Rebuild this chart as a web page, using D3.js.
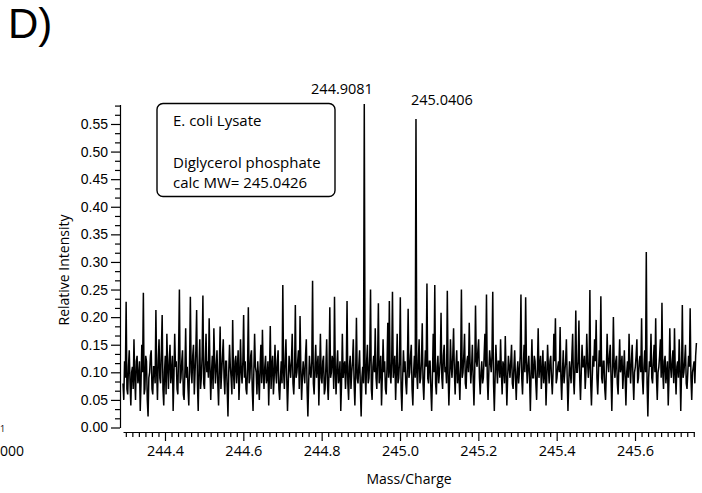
<!DOCTYPE html>
<html><head><meta charset="utf-8">
<script src="https://cdn.jsdelivr.net/npm/d3@7"></script>
<style>body{margin:0;background:#fff} svg{display:block}</style>
</head><body>
<script>
// ---- data ----
const mzStart = 244.2928;
const mzStep = 0.002;
const intensity = [
0.08,0.05,0.12,0.09,0.228,0.07,0.06,0.11,0.14,0.08,0.04,0.10,0.11,0.07,0.16,0.09,0.05,0.12,0.13,0.08,
0.09,0.12,0.03,0.08,0.15,0.10,0.244,0.06,0.07,0.13,0.12,0.05,0.02,0.09,0.10,0.13,0.14,0.07,0.06,0.11,
0.11,0.08,0.213,0.10,0.05,0.12,0.16,0.09,0.08,0.14,0.204,0.07,0.04,0.10,0.13,0.06,0.17,0.11,0.07,0.12,
0.15,0.08,0.10,0.13,0.03,0.09,0.17,0.11,0.12,0.07,0.06,0.14,0.250,0.08,0.09,0.12,0.14,0.06,0.05,0.10,
0.18,0.09,0.11,0.07,0.04,0.12,0.237,0.10,0.08,0.13,0.15,0.06,0.10,0.14,0.213,0.08,0.03,0.11,0.16,0.07,
0.09,0.13,0.239,0.08,0.07,0.12,0.17,0.10,0.12,0.09,0.198,0.11,0.05,0.10,0.13,0.07,0.18,0.12,0.08,0.11,
0.14,0.08,0.04,0.11,0.183,0.07,0.10,0.13,0.16,0.09,0.06,0.12,0.12,0.07,0.02,0.10,0.15,0.11,0.09,0.06,
0.195,0.10,0.07,0.12,0.13,0.08,0.11,0.14,0.05,0.09,0.16,0.10,0.08,0.12,0.204,0.09,0.12,0.07,0.06,0.11,
0.218,0.08,0.09,0.13,0.14,0.07,0.03,0.10,0.17,0.11,0.10,0.06,0.12,0.09,0.05,0.11,0.15,0.08,0.177,0.10,
0.07,0.11,0.13,0.08,0.09,0.12,0.04,0.10,0.184,0.07,0.11,0.13,0.06,0.09,0.15,0.10,0.08,0.12,0.14,0.07,
0.05,0.09,0.12,0.08,0.258,0.10,0.07,0.12,0.16,0.09,0.03,0.08,0.13,0.11,0.09,0.12,0.17,0.08,0.06,0.10,
0.222,0.09,0.10,0.12,0.14,0.07,0.202,0.11,0.05,0.09,0.12,0.10,0.08,0.13,0.16,0.07,0.02,0.08,0.13,0.10,
0.09,0.12,0.266,0.08,0.06,0.11,0.15,0.09,0.11,0.13,0.04,0.10,0.17,0.09,0.08,0.12,0.13,0.06,0.07,0.11,
0.16,0.08,0.05,0.10,0.218,0.09,0.10,0.13,0.12,0.07,0.237,0.10,0.06,0.11,0.14,0.08,0.09,0.12,0.03,0.08,
0.17,0.09,0.11,0.12,0.07,0.10,0.229,0.08,0.05,0.11,0.13,0.07,0.10,0.12,0.16,0.08,0.04,0.10,0.199,0.09,
0.08,0.11,0.14,0.07,0.02,0.09,0.11,0.08,0.586,0.10,0.06,0.12,0.15,0.08,0.09,0.13,0.250,0.07,0.05,0.11,
0.13,0.10,0.18,0.09,0.07,0.12,0.225,0.08,0.10,0.13,0.04,0.09,0.16,0.10,0.12,0.07,0.06,0.11,0.19,0.09,
0.229,0.10,0.08,0.12,0.246,0.09,0.11,0.13,0.05,0.10,0.17,0.08,0.09,0.12,0.236,0.07,0.03,0.09,0.14,0.10,
0.12,0.08,0.06,0.11,0.215,0.09,0.10,0.13,0.15,0.07,0.04,0.10,0.13,0.09,0.559,0.10,0.07,0.12,0.16,0.08,
0.09,0.12,0.189,0.08,0.05,0.10,0.14,0.11,0.261,0.09,0.08,0.12,0.12,0.07,0.03,0.09,0.17,0.10,0.258,0.08,
0.06,0.11,0.13,0.08,0.10,0.12,0.208,0.09,0.07,0.13,0.15,0.10,0.11,0.08,0.248,0.10,0.04,0.09,0.16,0.11,
0.09,0.13,0.18,0.10,0.06,0.11,0.14,0.08,0.12,0.09,0.05,0.11,0.250,0.09,0.10,0.13,0.17,0.08,0.07,0.12,
0.13,0.10,0.19,0.12,0.08,0.11,0.15,0.09,0.04,0.10,0.221,0.12,0.11,0.14,0.16,0.09,0.06,0.10,0.12,0.08,
0.09,0.13,0.17,0.11,0.241,0.09,0.05,0.10,0.14,0.12,0.10,0.13,0.246,0.08,0.03,0.09,0.15,0.11,0.08,0.12,
0.12,0.09,0.16,0.10,0.06,0.12,0.11,0.08,0.166,0.10,0.04,0.09,0.13,0.11,0.09,0.12,0.15,0.08,0.07,0.11,
0.14,0.09,0.05,0.10,0.12,0.08,0.10,0.13,0.241,0.09,0.06,0.11,0.15,0.10,0.236,0.12,0.08,0.11,0.13,0.09,
0.03,0.10,0.16,0.09,0.09,0.13,0.12,0.08,0.05,0.11,0.180,0.09,0.11,0.13,0.07,0.10,0.14,0.08,0.10,0.12,
0.04,0.09,0.15,0.11,0.08,0.12,0.13,0.09,0.06,0.10,0.17,0.12,0.198,0.08,0.09,0.11,0.12,0.10,0.182,0.09,
0.05,0.10,0.14,0.08,0.10,0.12,0.16,0.09,0.03,0.08,0.12,0.10,0.08,0.13,0.17,0.09,0.06,0.11,0.212,0.10,
0.10,0.12,0.194,0.09,0.05,0.10,0.15,0.11,0.11,0.13,0.07,0.10,0.17,0.12,0.09,0.11,0.249,0.08,0.04,0.09,
0.13,0.11,0.16,0.12,0.195,0.09,0.06,0.10,0.14,0.11,0.238,0.09,0.08,0.12,0.12,0.07,0.05,0.10,0.17,0.12,
0.10,0.13,0.15,0.09,0.03,0.10,0.200,0.11,0.09,0.12,0.13,0.08,0.06,0.11,0.16,0.10,0.11,0.13,0.07,0.10,
0.14,0.09,0.04,0.10,0.12,0.09,0.17,0.11,0.08,0.12,0.15,0.09,0.05,0.10,0.11,0.13,0.16,0.08,0.09,0.12,
0.13,0.10,0.198,0.09,0.06,0.11,0.14,0.10,0.318,0.08,0.02,0.09,0.12,0.11,0.17,0.09,0.08,0.12,0.15,0.10,
0.198,0.09,0.05,0.10,0.11,0.13,0.16,0.09,0.226,0.10,0.07,0.12,0.13,0.08,0.10,0.12,0.04,0.09,0.18,0.11,
0.09,0.12,0.14,0.08,0.180,0.10,0.06,0.11,0.12,0.09,0.16,0.11,0.03,0.10,0.222,0.09,0.10,0.12,0.15,0.08,
0.07,0.10,0.13,0.11,0.216,0.09,0.05,0.10,0.11,0.12,0.08,0.13,0.153
];
const yTickValues = [0.00,0.05,0.10,0.15,0.20,0.25,0.30,0.35,0.40,0.45,0.50,0.55];
const xTickValues = [244.4,244.6,244.8,245.0,245.2,245.4,245.6];
const peakMz = [244.9081, 245.0406];
const peakText = ["244.9081", "245.0406"];
const boxLines = ["E. coli Lysate", "Diglycerol phosphate", "calc MW= 245.0426"];
const panelLabel = "D)";
const xTitle = "Mass/Charge";
const yTitle = "Relative Intensity";

// ---- drawing ----
const W = 702, H = 493;
const svg = d3.select("body").append("svg").attr("width", W).attr("height", H);

const x = d3.scaleLinear().domain([244.2928, 245.7506]).range([123, 694]);
const y = d3.scaleLinear().domain([0, 0.5853]).range([427.5, 104.5]);

const sans = "'Open Sans', sans-serif";
const helv = "'Liberation Sans', Arial, sans-serif";

// panel label
svg.append("text").attr("x", 8).attr("y", 38).attr("font-family", helv)
  .attr("font-size", 42).attr("fill", "#000").text(panelLabel);

// fragments of the neighbouring panel's text
svg.append("text").attr("x", 0).attr("y", 432)
  .attr("font-family", sans).attr("font-size", 9).text("1");
svg.append("text").attr("x", 0).attr("y", 456)
  .attr("font-family", sans).attr("font-size", 14).text("000");

// y axis
const minorStep = 1/60;
const yMinor = d3.range(0, 0.5853, minorStep).filter(v => Math.abs(v/0.05 - Math.round(v/0.05)) > 1e-6);
const yAx = svg.append("g").attr("transform", "translate(120,0)")
  .call(d3.axisLeft(y).tickValues(yTickValues).tickFormat(d3.format(".2f"))
    .tickSize(9).tickSizeOuter(0).tickPadding(3));
yAx.selectAll("text").attr("font-family", helv).attr("font-size", 14).attr("fill", "#000");
svg.append("g").attr("transform", "translate(120,0)")
  .call(d3.axisLeft(y).tickValues(yMinor).tickFormat("").tickSize(5).tickSizeOuter(0))
  .select(".domain").remove();

// x axis
const xMinorAll = d3.range(244.4 - 6*minorStep, 245.751, minorStep);
const xMinor = xMinorAll.filter(v => Math.abs((v-244.4)/0.2 - Math.round((v-244.4)/0.2)) > 1e-6);
const xAx = svg.append("g").attr("transform", "translate(0,432)")
  .call(d3.axisBottom(x).tickValues(xTickValues).tickFormat(d3.format(".1f"))
    .tickSize(9).tickSizeOuter(0).tickPadding(5));
xAx.selectAll("text").attr("font-family", sans).attr("font-size", 14.5).attr("fill", "#000");
svg.append("g").attr("transform", "translate(0,432)")
  .call(d3.axisBottom(x).tickValues(xMinor).tickFormat("").tickSize(5).tickSizeOuter(0))
  .select(".domain").remove();

svg.selectAll(".domain, .tick line").attr("stroke", "#000").attr("stroke-width", 1.2);

// titles
svg.append("text").attr("x", 409).attr("y", 484).attr("text-anchor", "middle")
  .attr("font-family", sans).attr("font-size", 14).text(xTitle);
svg.append("text").attr("transform", "translate(69,270) rotate(-90)").attr("text-anchor", "middle")
  .attr("font-family", sans).attr("font-size", 14).text(yTitle);

// spectrum
const line = d3.line().x((d, i) => x(mzStart + i * mzStep)).y(d => y(d));
svg.append("path").datum(intensity).attr("d", line)
  .attr("fill", "none").attr("stroke", "#000").attr("stroke-width", 1.5)
  .attr("stroke-linejoin", "miter");

// peak labels
const peakOffsets = [-22, 26];
const peakBaselines = [94, 105];
peakMz.forEach((m, i) => {
  svg.append("text").attr("x", x(m) + peakOffsets[i]).attr("y", peakBaselines[i])
    .attr("text-anchor", "middle").attr("font-family", sans).attr("font-size", 14.5)
    .text(peakText[i]);
});

// annotation box
svg.append("rect").attr("x", 157).attr("y", 103.5).attr("width", 178).attr("height", 93)
  .attr("rx", 6).attr("fill", "#fff").attr("stroke", "#000").attr("stroke-width", 1.4);
const boxY = [126, 168, 188];
boxLines.forEach((t, i) => {
  svg.append("text").attr("x", 173).attr("y", boxY[i]).attr("font-family", sans)
    .attr("font-size", 15).text(t);
});
</script>
</body></html>
